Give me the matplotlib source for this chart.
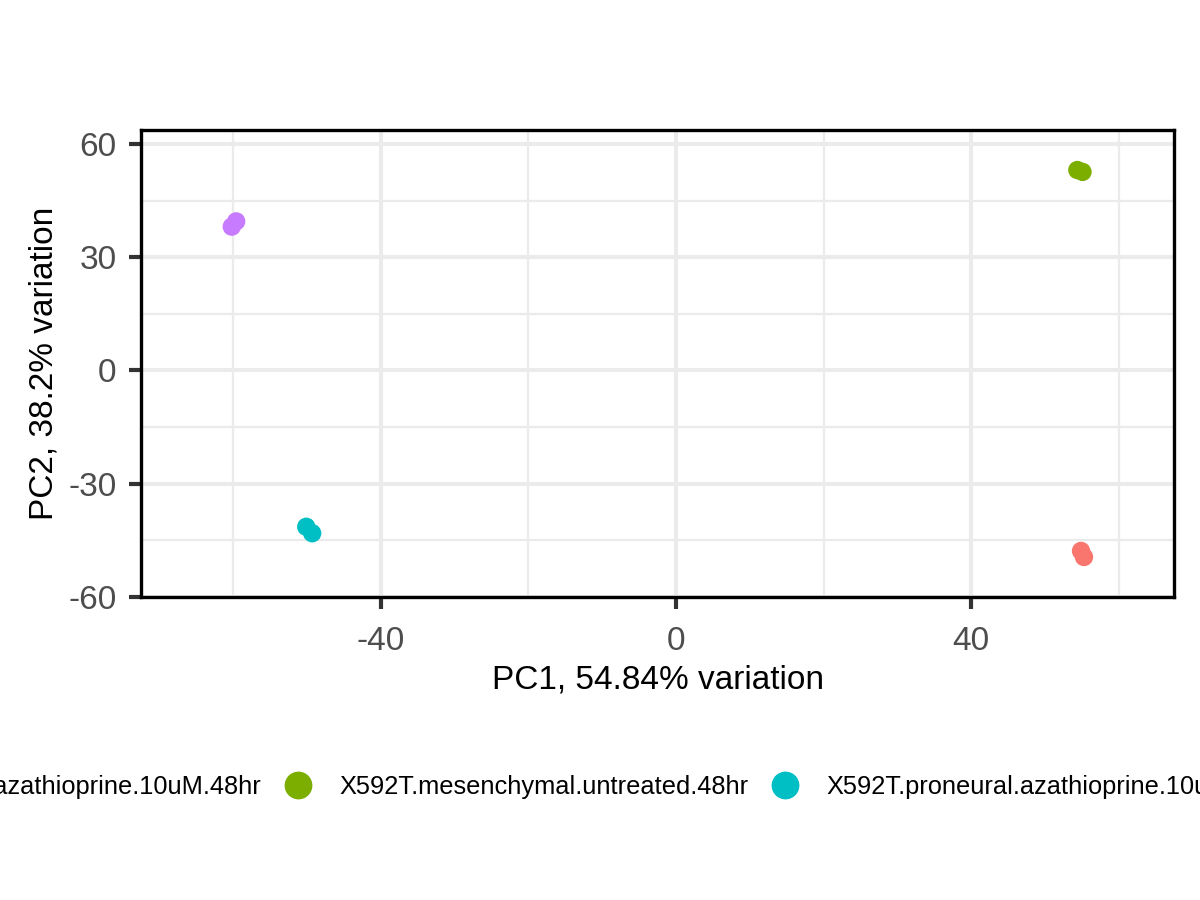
import matplotlib
matplotlib.use("Agg")
import matplotlib.pyplot as plt
from matplotlib.lines import Line2D

plt.rcParams["font.family"] = ["Liberation Sans", "DejaVu Sans"]

# PCA scores
groups = [
    "X592T.mesenchymal.azathioprine.10uM.48hr",
    "X592T.mesenchymal.untreated.48hr",
    "X592T.proneural.azathioprine.10uM.48hr",
    "X592T.proneural.untreated.48hr",
]
colors = ["#F8766D", "#7CAE00", "#00BFC4", "#C77CFF"]
pc1 = {
    groups[0]: [54.9, 55.3],
    groups[1]: [54.4, 55.1],
    groups[2]: [-50.1, -49.3],
    groups[3]: [-60.2, -59.6],
}
pc2 = {
    groups[0]: [-47.8, -49.4],
    groups[1]: [53.1, 52.6],
    groups[2]: [-41.4, -43.1],
    groups[3]: [38.1, 39.5],
}
x_label = "PC1, 54.84% variation"
y_label = "PC2, 38.2% variation"
x_ticks = [-40, 0, 40]
y_ticks = [-60, -30, 0, 30, 60]

fig = plt.figure(figsize=(12, 9), dpi=100)
ax = fig.add_axes([141 / 1200, 1 - 597 / 900, (1174 - 141) / 1200, (597 - 130) / 900])

for g, c in zip(groups, colors):
    ax.scatter(pc1[g], pc2[g], s=175, color=c, edgecolors="none", zorder=3)

ax.set_xlim(-72.5, 67.5)
ax.set_ylim(-60, 63.7)
ax.set_xticks(x_ticks)
ax.set_yticks(y_ticks)
ax.set_xticks([-60, -20, 20, 60], minor=True)
ax.set_yticks([-45, -15, 15, 45], minor=True)
ax.set_yticklabels([str(v) for v in y_ticks])
ax.set_xticklabels([str(v) for v in x_ticks])

ax.grid(True, which="major", color="#EBEBEB", linewidth=2.9)
ax.grid(True, which="minor", color="#EBEBEB", linewidth=1.6)
ax.set_axisbelow(True)

ax.tick_params(which="major", length=8.6, width=3, color="#333333",
               labelsize=24, labelcolor="#4D4D4D", pad=9)
ax.tick_params(axis="x", which="major", pad=12)
ax.tick_params(which="minor", length=0)

for side in ["top", "right", "bottom", "left"]:
    ax.spines[side].set_linewidth(2.4)
    ax.spines[side].set_color("black")

ax.set_xlabel(x_label, fontsize=24, labelpad=6)
ax.set_ylabel(y_label, fontsize=24, labelpad=6)

handles = [Line2D([], [], marker="o", linestyle="none", markersize=20,
                  markerfacecolor=c, markeredgecolor="none") for c in colors]
fig.legend(handles, groups, loc="center", bbox_to_anchor=(710 / 1200, 1 - 787 / 900),
           ncol=4, frameon=False, fontsize=18.3, handlelength=1.2,
           handletextpad=1.02, columnspacing=0.85, borderaxespad=0)

fig.savefig("out.png", dpi=100)
